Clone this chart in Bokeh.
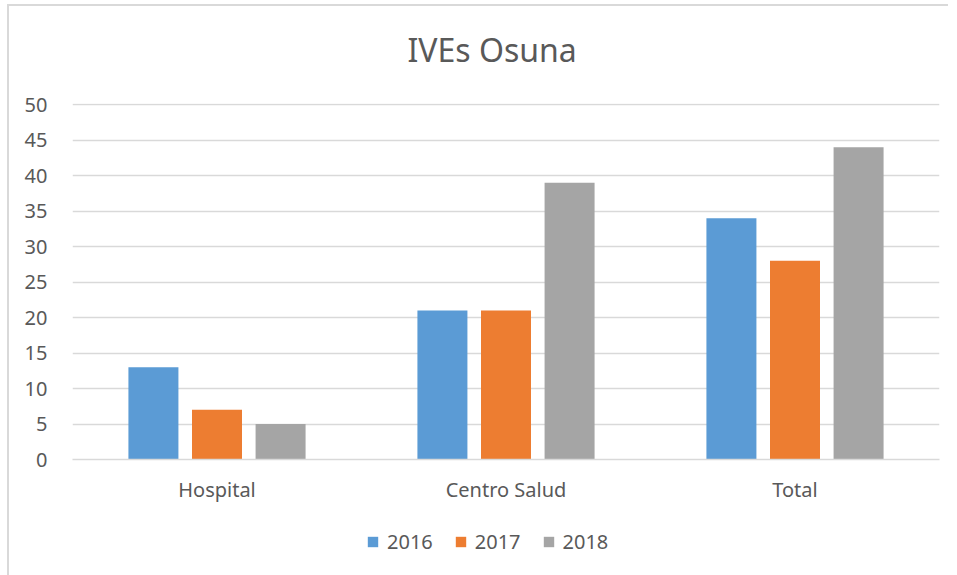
from bokeh.plotting import figure
from bokeh.models import ColumnDataSource, FactorRange, Legend, LegendItem, SingleIntervalTicker, Range1d, Label
from bokeh.layouts import column
from bokeh.transform import dodge
from bokeh.embed import file_html
from bokeh.resources import INLINE

title_text = "IVEs Osuna"
categories = ["Hospital", "Centro Salud", "Total"]
years = ["2016", "2017", "2018"]
v2016 = [13, 21, 34]
v2017 = [7, 21, 28]
v2018 = [5, 39, 44]
colors = ["#5B9BD5", "#ED7D31", "#A5A5A5"]

FONT = "Noto Sans"
TXT = "#595959"
GRID = "#D9D9D9"

src = ColumnDataSource(dict(cat=categories, y2016=v2016, y2017=v2017, y2018=v2018))

# title strip
p0 = figure(x_range=Range1d(0, 1), y_range=Range1d(0, 1), width=939, height=86, min_border=0,
            x_axis_type=None, y_axis_type=None, output_backend="svg", toolbar_location=None)
p0.outline_line_color = None
p0.grid.grid_line_color = None
p0.add_layout(Label(x=0.484, y=0.5, text=title_text, text_align="center", text_baseline="middle",
                    text_font=FONT, text_font_size="32px", text_color=TXT))

# main chart
p = figure(x_range=FactorRange(*categories, range_padding=0), y_range=Range1d(0, 50.15),
           frame_width=867, frame_height=356, min_border_left=63, min_border_right=9,
           min_border_top=11, min_border_bottom=60,
           output_backend="svg", toolbar_location=None)

offsets = [-0.22, 0.0, 0.22]
renderers = []
for yr, off, c in zip(years, offsets, colors):
    r = p.vbar(x=dodge("cat", off, range=p.x_range), top="y" + yr, width=0.173,
               source=src, fill_color=c, line_color=None)
    renderers.append(r)

p.outline_line_color = None
p.xgrid.grid_line_color = None
p.ygrid.grid_line_color = GRID
p.ygrid.grid_line_width = 1.5
p.yaxis.ticker = SingleIntervalTicker(interval=5)
p.yaxis.axis_line_color = None
p.yaxis.major_tick_line_color = None
p.yaxis.minor_tick_line_color = None
p.yaxis.major_label_standoff = 19
p.yaxis.major_label_text_font = FONT
p.yaxis.major_label_text_font_size = "20px"
p.yaxis.major_label_text_color = TXT

p.xaxis.axis_line_color = GRID
p.xaxis.axis_line_width = 1.5
p.xaxis.major_tick_line_color = None
p.xaxis.minor_tick_line_color = None
p.xaxis.major_label_standoff = 10
p.xaxis.major_label_text_font = FONT
p.xaxis.major_label_text_font_size = "20px"
p.xaxis.major_label_text_color = TXT

# legend strip below the chart
p2 = figure(x_range=FactorRange(*categories), y_range=Range1d(-10, -9),
            width=939, height=60, min_border=0, x_axis_type=None, y_axis_type=None,
            output_backend="svg", toolbar_location=None)
p2.outline_line_color = None
p2.grid.grid_line_color = None
leg_renderers = []
for yr, c in zip(years, colors):
    r2 = p2.vbar(x="cat", top="y" + yr, width=0, source=src, fill_color=c, line_color=None)
    leg_renderers.append(r2)

legend = Legend(items=[LegendItem(label=yr, renderers=[r]) for yr, r in zip(years, leg_renderers)],
                orientation="horizontal", location=(294, 24),
                glyph_width=13, glyph_height=13, label_standoff=8, spacing=21,
                label_text_font=FONT, label_text_font_size="20px", label_text_color=TXT,
                border_line_color=None, background_fill_alpha=0, padding=0, margin=0)
p2.add_layout(legend, "center")

layout = column(p0, p, p2, spacing=0)
layout.styles = {"margin-left": "7px", "margin-top": "4px",
                 "border-left": "2px solid #D9D9D9", "border-top": "2px solid #D9D9D9"}

open("out.html", "w").write(file_html(layout, INLINE))
